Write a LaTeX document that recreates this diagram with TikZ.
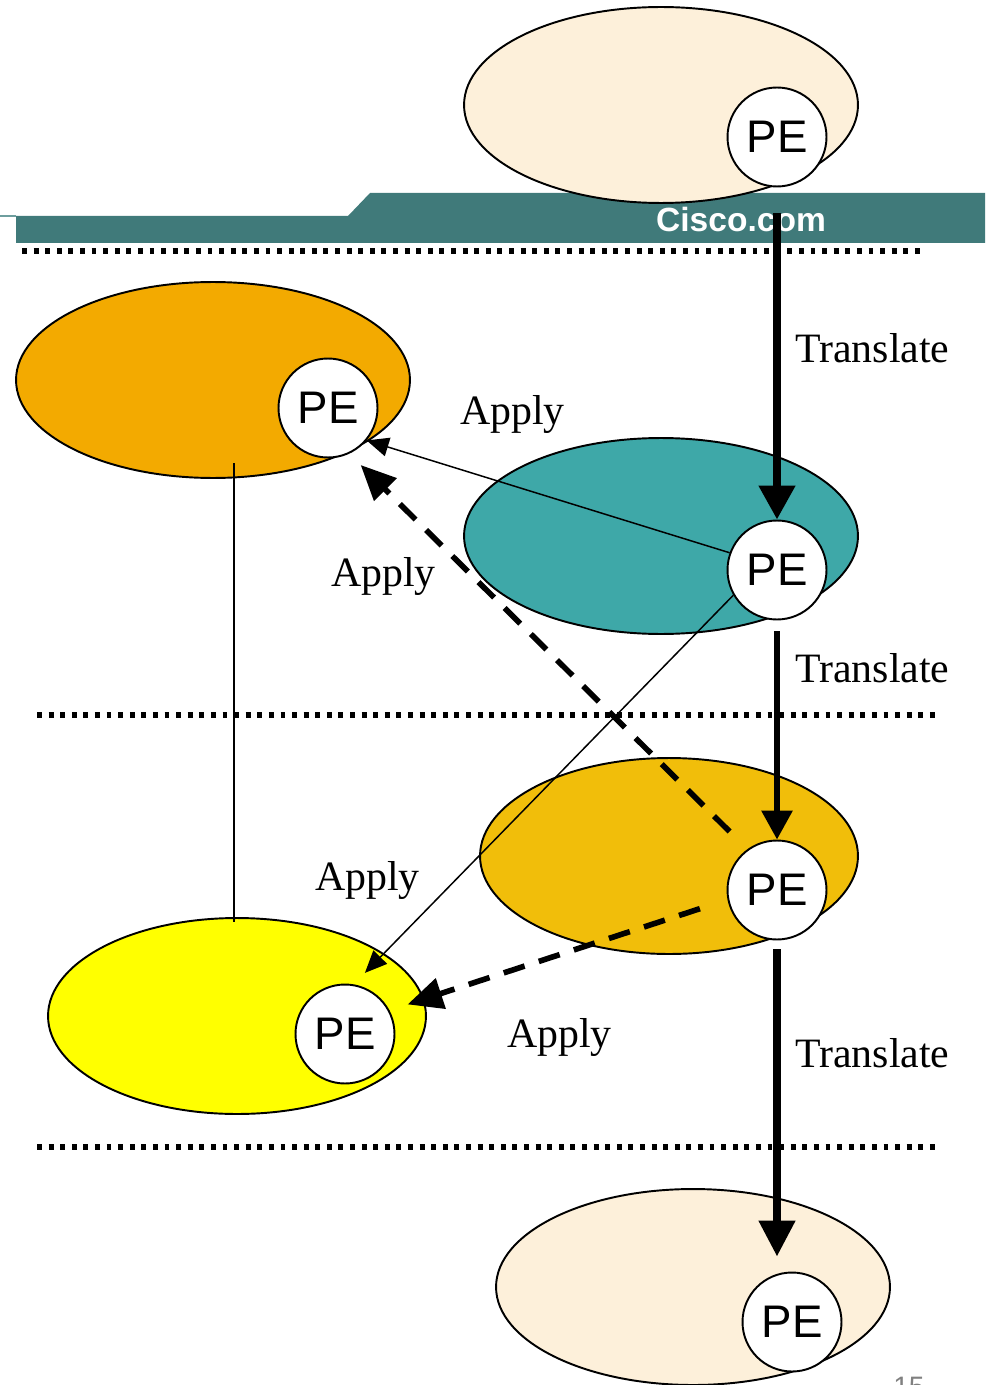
\documentclass[tikz,border=0pt]{standalone}
\usepackage{fontspec}
\setmainfont{Liberation Serif}
\setsansfont{Liberation Sans}
\usetikzlibrary{shapes.geometric,arrows.meta}

\definecolor{sitecream}{HTML}{FDF0DA}
\definecolor{siteorange}{HTML}{F3AA00}
\definecolor{siteteal}{HTML}{3EA8A8}
\definecolor{sitegold}{HTML}{F1BE0A}
\definecolor{siteyellow}{HTML}{FFFF00}
\definecolor{bannerteal}{HTML}{407A7A}
\definecolor{bannerlight}{HTML}{6E9E9E}

\tikzset{
  site/.style={ellipse, draw, line width=1.1pt, inner sep=0pt,
    minimum width=7.88cm, minimum height=3.92cm},
  narrowsite/.style={site, minimum width=7.56cm},
  pe/.style={circle, draw, fill=white, line width=1.1pt, inner sep=0pt,
    minimum size=1.98cm, font=\sffamily\fontsize{26}{26}\selectfont},
  lbl/.style={anchor=base west, inner sep=0pt,
    font=\fontsize{23.8}{24}\selectfont},
  sepline/.style={line width=3.1pt, dash pattern=on 2.8pt off 3.8pt},
  applyline/.style={line width=0.85pt,
    -{Triangle[length=0.44cm, width=0.38cm]}},
  applydash/.style={line width=3.2pt, dash pattern=on 12.5pt off 8.5pt,
    -{Triangle[length=0.7cm, width=0.62cm]}}
}

\begin{document}
\begin{tikzpicture}[x=0.02cm, y=-0.02cm]
    \useasboundingbox (0,0) rectangle (989,1385);

    % banner strip
    \fill[bannerteal] (16,243) -- (16,216) -- (348,216) -- (370,193)
        -- (985,193) -- (985,243) -- cycle;
    \draw[bannerlight, line width=0.8pt] (0,216) -- (16,216);
    \node[text=white, anchor=base, inner sep=0pt,
        font=\sffamily\bfseries\fontsize{19.1}{20}\selectfont]
        (cisco) at (741,232) {Cisco.com};

    % sites
    \node[site, fill=sitecream] (topsite) at (661,105) {};
    \node[site, fill=siteorange] (orangesite) at (213,380) {};
    \node[site, fill=siteteal] (tealsite) at (661,536) {};
    \node[narrowsite, fill=sitegold] (goldsite) at (669,856) {};
    \node[narrowsite, fill=siteyellow] (yellowsite) at (237,1016) {};
    \node[site, fill=sitecream] (bottomsite) at (693,1287) {};

    % PE routers
    \node[pe] (toppe) at (777,137) {PE};
    \node[pe] (orangepe) at (328,408) {PE};
    \node[pe] (tealpe) at (777,570) {PE};
    \node[pe] (goldpe) at (777,890) {PE};
    \node[pe] (yellowpe) at (345,1034) {PE};
    \node[pe] (bottompe) at (792,1322) {PE};

    % dotted separators
    \draw[sepline] (22,251) -- (920,251);
    \draw[sepline] (37,715) -- (937,715);
    \draw[sepline] (37,1147) -- (937,1147);

    % link between the left sites
    \coordinate (linktop) at (234,463);
    \coordinate (linkbot) at (234,922);
    \draw[line width=0.85pt] (linktop) -- (linkbot);

    % translate steps
    \draw[line width=4.4pt, shorten <=0.51cm,
        -{Triangle[length=0.68cm, width=0.7cm]}] (toppe.south) -- (tealpe.north);
    \draw[line width=3.4pt, shorten <=0.22cm,
        -{Triangle[length=0.58cm, width=0.6cm]}] (tealpe.south) -- (goldpe.north);
    \draw[line width=4.4pt, shorten <=0.18cm, shorten >=0.3cm,
        -{Triangle[length=0.72cm, width=0.7cm]}]
        (goldpe.south) -- (goldpe.south |- bottompe.north);

    % apply steps
    \draw[applyline] (tealpe.160) -- (orangepe.320);
    \draw[applyline, shorten >=0.32cm] (tealpe.210) -- (yellowpe.80);
    \draw[applydash, shorten <=0.5cm, shorten >=0.32cm] (goldpe.126) -- (orangepe.295);
    \draw[applydash, shorten <=0.58cm, shorten >=0.38cm] (goldpe.191) -- (yellowpe.28);

    \node[lbl] (tr1) at (795,362) {Translate};
    \node[lbl] (tr2) at (795,682) {Translate};
    \node[lbl] (tr3) at (795,1067) {Translate};
    \node[lbl] (ap1) at (460,424) {Apply};
    \node[lbl] (ap2) at (331,586) {Apply};
    \node[lbl] (ap3) at (315,890) {Apply};
    \node[lbl] (ap4) at (507,1047) {Apply};

    % page number
    \node[anchor=north west, inner sep=0pt, text=gray,
        font=\sffamily\fontsize{16}{16}\selectfont] (pageno) at (893,1377) {15};
\end{tikzpicture}
\end{document}
